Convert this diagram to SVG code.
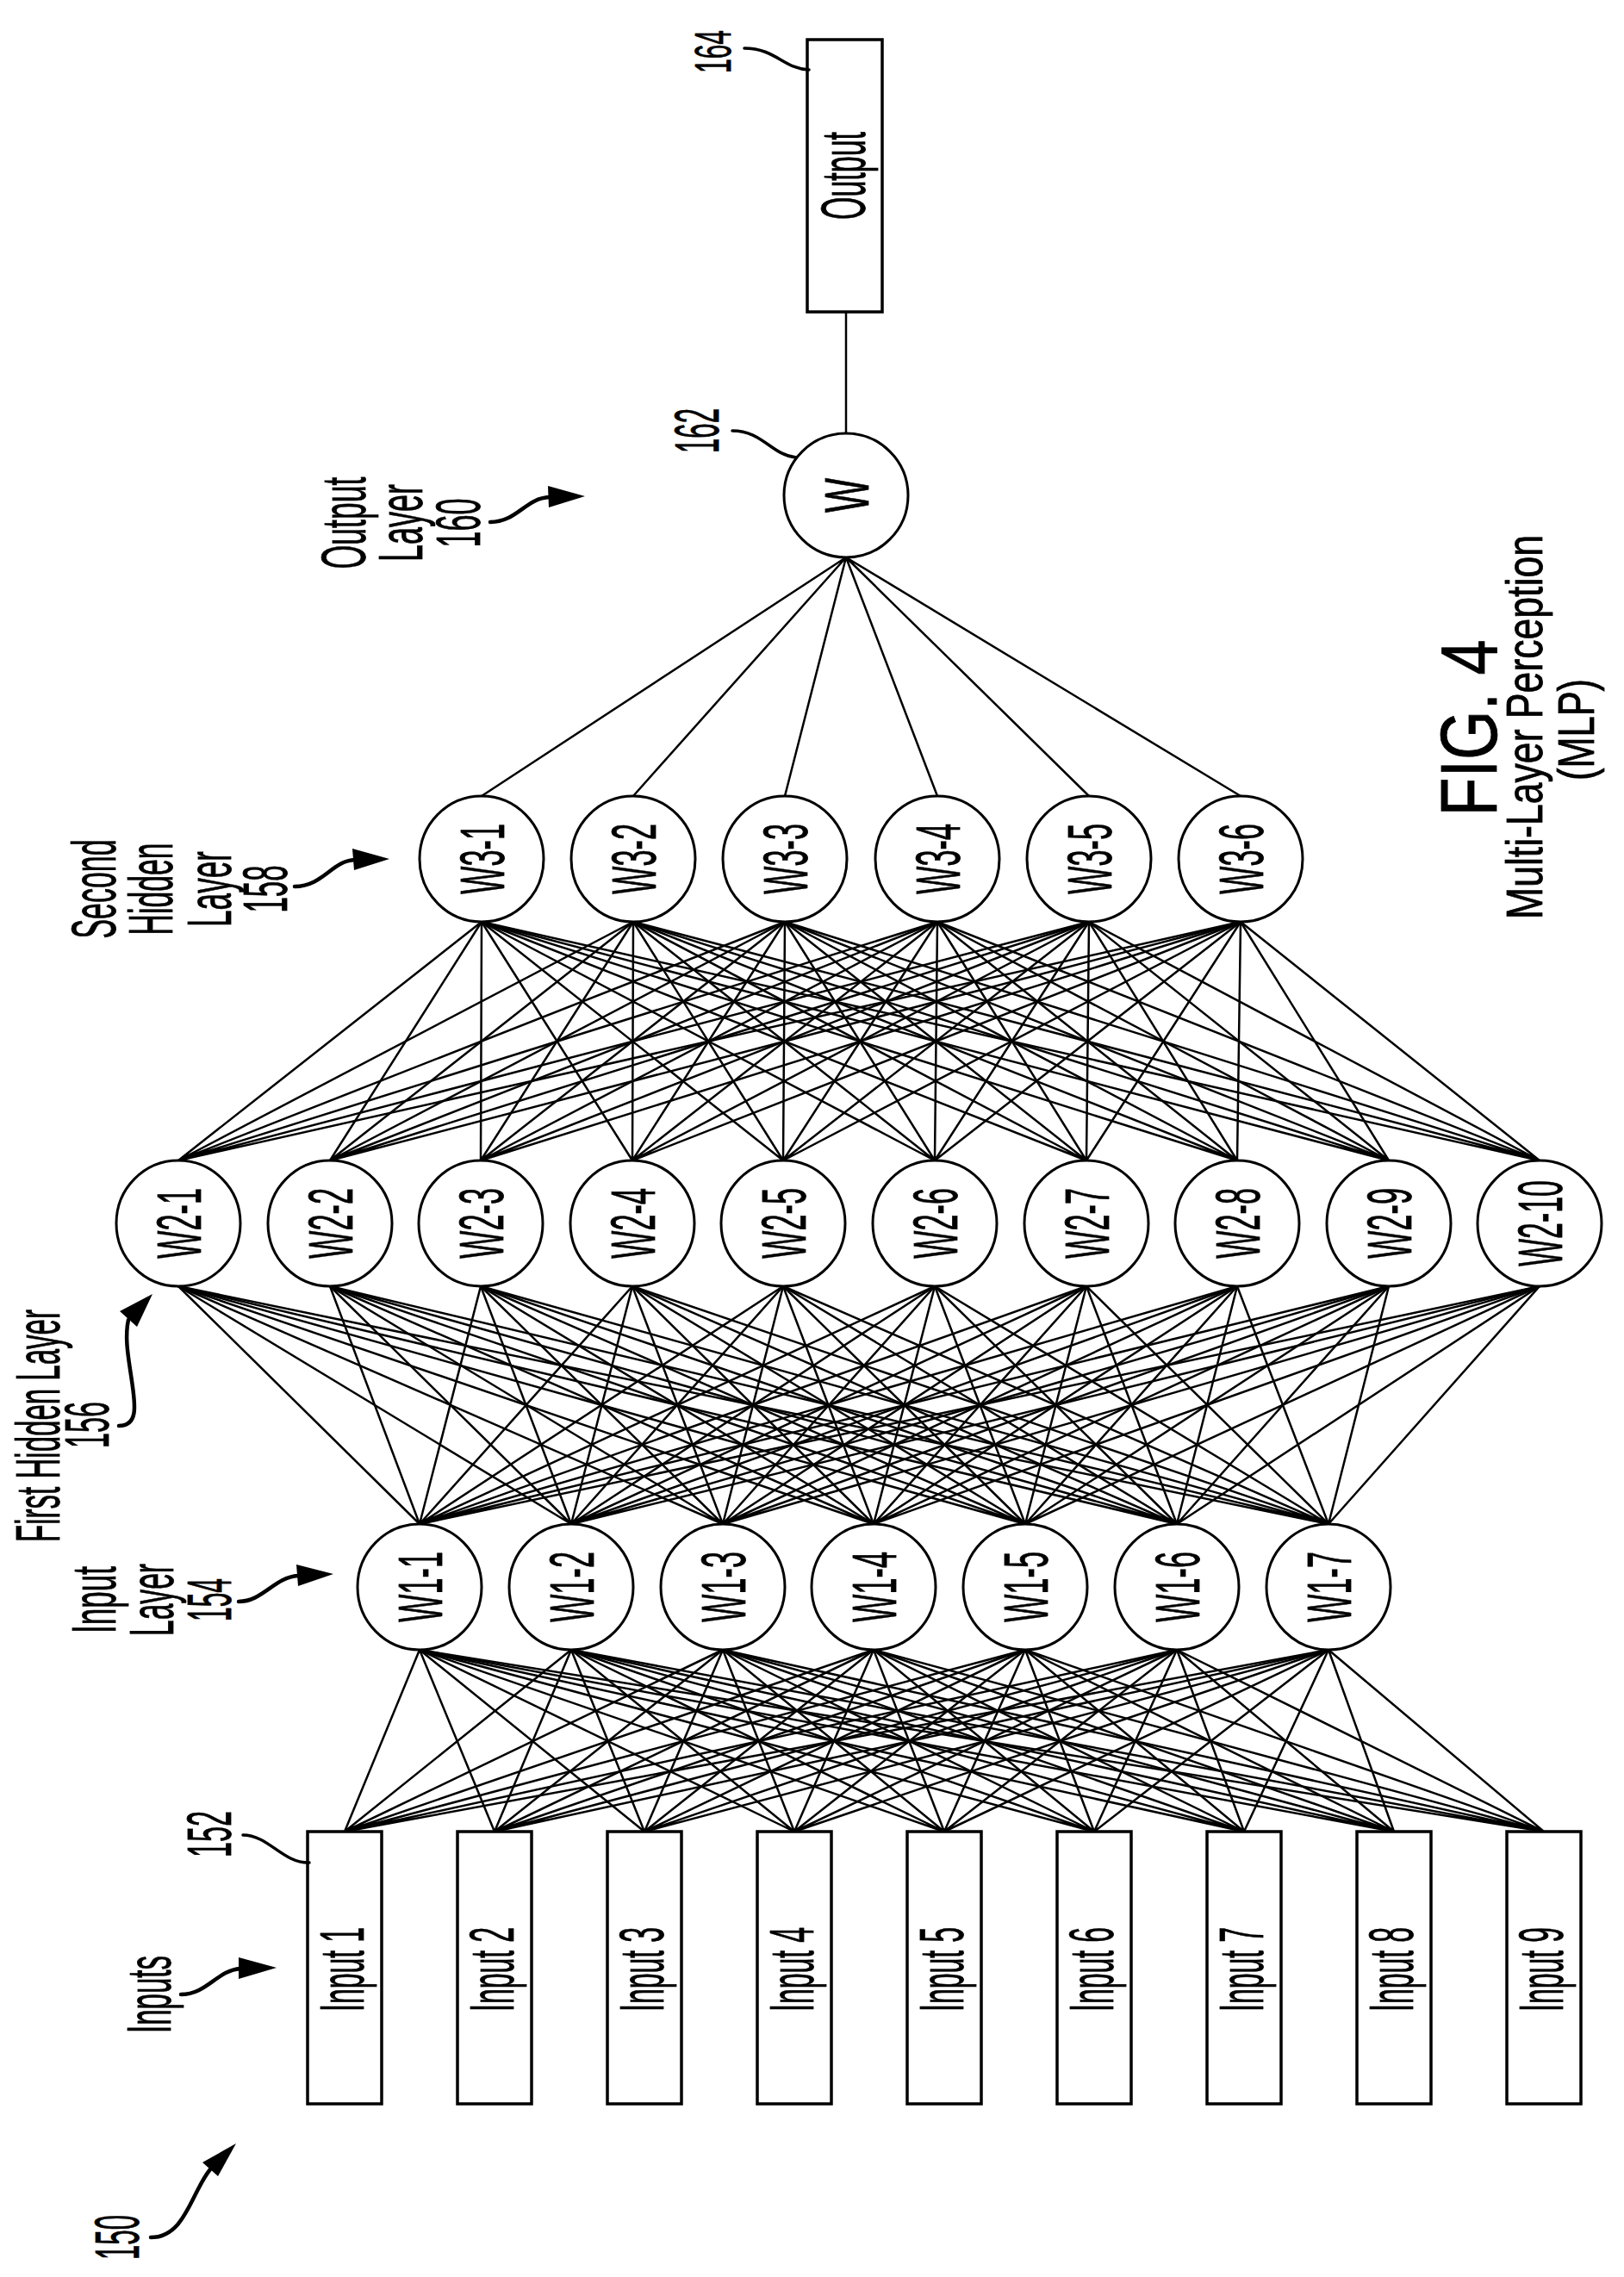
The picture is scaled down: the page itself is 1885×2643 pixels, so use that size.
<svg xmlns="http://www.w3.org/2000/svg" width="1885" height="2643" viewBox="0 0 1885 2643">
<style>
text{font-family:"Liberation Sans",Arial,sans-serif;fill:#000;stroke:#000;stroke-width:0.8}
.n{font-size:72px;text-anchor:middle}
.l{font-size:72px;text-anchor:middle}
.e{fill:#fff;stroke:#000;stroke-width:3}
.b{fill:#fff;stroke:#000;stroke-width:3.5}
.c path{fill:none;stroke:#000;stroke-width:2.5}
.ld{fill:none;stroke:#000;stroke-width:4.5;stroke-linecap:round}
.ah{fill:#000}
</style>
<rect width="1885" height="2643" fill="#fff"/>
<g id="connectors" class="c">
<path d="M400,2126L487,1915M400,2126L663,1915M400,2126L839,1915M400,2126L1014,1915M400,2126L1190,1915M400,2126L1366,1915M400,2126L1542,1915"/>
<path d="M574,2126L487,1915M574,2126L663,1915M574,2126L839,1915M574,2126L1014,1915M574,2126L1190,1915M574,2126L1366,1915M574,2126L1542,1915"/>
<path d="M748,2126L487,1915M748,2126L663,1915M748,2126L839,1915M748,2126L1014,1915M748,2126L1190,1915M748,2126L1366,1915M748,2126L1542,1915"/>
<path d="M922,2126L487,1915M922,2126L663,1915M922,2126L839,1915M922,2126L1014,1915M922,2126L1190,1915M922,2126L1366,1915M922,2126L1542,1915"/>
<path d="M1096,2126L487,1915M1096,2126L663,1915M1096,2126L839,1915M1096,2126L1014,1915M1096,2126L1190,1915M1096,2126L1366,1915M1096,2126L1542,1915"/>
<path d="M1270,2126L487,1915M1270,2126L663,1915M1270,2126L839,1915M1270,2126L1014,1915M1270,2126L1190,1915M1270,2126L1366,1915M1270,2126L1542,1915"/>
<path d="M1444,2126L487,1915M1444,2126L663,1915M1444,2126L839,1915M1444,2126L1014,1915M1444,2126L1190,1915M1444,2126L1366,1915M1444,2126L1542,1915"/>
<path d="M1618,2126L487,1915M1618,2126L663,1915M1618,2126L839,1915M1618,2126L1014,1915M1618,2126L1190,1915M1618,2126L1366,1915M1618,2126L1542,1915"/>
<path d="M1792,2126L487,1915M1792,2126L663,1915M1792,2126L839,1915M1792,2126L1014,1915M1792,2126L1190,1915M1792,2126L1366,1915M1792,2126L1542,1915"/>
<path d="M487,1769L207,1493M487,1769L383,1493M487,1769L558,1493M487,1769L734,1493M487,1769L909,1493M487,1769L1085,1493M487,1769L1261,1493M487,1769L1436,1493M487,1769L1612,1493M487,1769L1787,1493"/>
<path d="M663,1769L207,1493M663,1769L383,1493M663,1769L558,1493M663,1769L734,1493M663,1769L909,1493M663,1769L1085,1493M663,1769L1261,1493M663,1769L1436,1493M663,1769L1612,1493M663,1769L1787,1493"/>
<path d="M839,1769L207,1493M839,1769L383,1493M839,1769L558,1493M839,1769L734,1493M839,1769L909,1493M839,1769L1085,1493M839,1769L1261,1493M839,1769L1436,1493M839,1769L1612,1493M839,1769L1787,1493"/>
<path d="M1014,1769L207,1493M1014,1769L383,1493M1014,1769L558,1493M1014,1769L734,1493M1014,1769L909,1493M1014,1769L1085,1493M1014,1769L1261,1493M1014,1769L1436,1493M1014,1769L1612,1493M1014,1769L1787,1493"/>
<path d="M1190,1769L207,1493M1190,1769L383,1493M1190,1769L558,1493M1190,1769L734,1493M1190,1769L909,1493M1190,1769L1085,1493M1190,1769L1261,1493M1190,1769L1436,1493M1190,1769L1612,1493M1190,1769L1787,1493"/>
<path d="M1366,1769L207,1493M1366,1769L383,1493M1366,1769L558,1493M1366,1769L734,1493M1366,1769L909,1493M1366,1769L1085,1493M1366,1769L1261,1493M1366,1769L1436,1493M1366,1769L1612,1493M1366,1769L1787,1493"/>
<path d="M1542,1769L207,1493M1542,1769L383,1493M1542,1769L558,1493M1542,1769L734,1493M1542,1769L909,1493M1542,1769L1085,1493M1542,1769L1261,1493M1542,1769L1436,1493M1542,1769L1612,1493M1542,1769L1787,1493"/>
<path d="M207,1347L559,1070M207,1347L735,1070M207,1347L911,1070M207,1347L1088,1070M207,1347L1264,1070M207,1347L1440,1070"/>
<path d="M383,1347L559,1070M383,1347L735,1070M383,1347L911,1070M383,1347L1088,1070M383,1347L1264,1070M383,1347L1440,1070"/>
<path d="M558,1347L559,1070M558,1347L735,1070M558,1347L911,1070M558,1347L1088,1070M558,1347L1264,1070M558,1347L1440,1070"/>
<path d="M734,1347L559,1070M734,1347L735,1070M734,1347L911,1070M734,1347L1088,1070M734,1347L1264,1070M734,1347L1440,1070"/>
<path d="M909,1347L559,1070M909,1347L735,1070M909,1347L911,1070M909,1347L1088,1070M909,1347L1264,1070M909,1347L1440,1070"/>
<path d="M1085,1347L559,1070M1085,1347L735,1070M1085,1347L911,1070M1085,1347L1088,1070M1085,1347L1264,1070M1085,1347L1440,1070"/>
<path d="M1261,1347L559,1070M1261,1347L735,1070M1261,1347L911,1070M1261,1347L1088,1070M1261,1347L1264,1070M1261,1347L1440,1070"/>
<path d="M1436,1347L559,1070M1436,1347L735,1070M1436,1347L911,1070M1436,1347L1088,1070M1436,1347L1264,1070M1436,1347L1440,1070"/>
<path d="M1612,1347L559,1070M1612,1347L735,1070M1612,1347L911,1070M1612,1347L1088,1070M1612,1347L1264,1070M1612,1347L1440,1070"/>
<path d="M1787,1347L559,1070M1787,1347L735,1070M1787,1347L911,1070M1787,1347L1088,1070M1787,1347L1264,1070M1787,1347L1440,1070"/>
<path d="M559,924L982,647M735,924L982,647M911,924L982,647M1088,924L982,647M1264,924L982,647M1440,924L982,647"/>
<path d="M982,503L982,362"/>
</g>
<g id="inputs">
<rect class="b" x="357" y="2126" width="86" height="316"/><text class="n" x="400" y="2286" dy="0.3em" textLength="98" lengthAdjust="spacingAndGlyphs" transform="rotate(-90 400 2286)">Input 1</text>
<rect class="b" x="531" y="2126" width="86" height="316"/><text class="n" x="574" y="2286" dy="0.3em" textLength="98" lengthAdjust="spacingAndGlyphs" transform="rotate(-90 574 2286)">Input 2</text>
<rect class="b" x="705" y="2126" width="86" height="316"/><text class="n" x="748" y="2286" dy="0.3em" textLength="98" lengthAdjust="spacingAndGlyphs" transform="rotate(-90 748 2286)">Input 3</text>
<rect class="b" x="879" y="2126" width="86" height="316"/><text class="n" x="922" y="2286" dy="0.3em" textLength="98" lengthAdjust="spacingAndGlyphs" transform="rotate(-90 922 2286)">Input 4</text>
<rect class="b" x="1053" y="2126" width="86" height="316"/><text class="n" x="1096" y="2286" dy="0.3em" textLength="98" lengthAdjust="spacingAndGlyphs" transform="rotate(-90 1096 2286)">Input 5</text>
<rect class="b" x="1227" y="2126" width="86" height="316"/><text class="n" x="1270" y="2286" dy="0.3em" textLength="98" lengthAdjust="spacingAndGlyphs" transform="rotate(-90 1270 2286)">Input 6</text>
<rect class="b" x="1401" y="2126" width="86" height="316"/><text class="n" x="1444" y="2286" dy="0.3em" textLength="98" lengthAdjust="spacingAndGlyphs" transform="rotate(-90 1444 2286)">Input 7</text>
<rect class="b" x="1575" y="2126" width="86" height="316"/><text class="n" x="1618" y="2286" dy="0.3em" textLength="98" lengthAdjust="spacingAndGlyphs" transform="rotate(-90 1618 2286)">Input 8</text>
<rect class="b" x="1749" y="2126" width="86" height="316"/><text class="n" x="1792" y="2286" dy="0.3em" textLength="98" lengthAdjust="spacingAndGlyphs" transform="rotate(-90 1792 2286)">Input 9</text>
</g>
<g id="layer1">
<ellipse class="e" cx="487" cy="1842" rx="72" ry="73"/><text class="n" x="487" y="1842" dy="0.36em" textLength="82" lengthAdjust="spacingAndGlyphs" transform="rotate(-90 487 1842)">W1-1</text>
<ellipse class="e" cx="663" cy="1842" rx="72" ry="73"/><text class="n" x="663" y="1842" dy="0.36em" textLength="82" lengthAdjust="spacingAndGlyphs" transform="rotate(-90 663 1842)">W1-2</text>
<ellipse class="e" cx="839" cy="1842" rx="72" ry="73"/><text class="n" x="839" y="1842" dy="0.36em" textLength="82" lengthAdjust="spacingAndGlyphs" transform="rotate(-90 839 1842)">W1-3</text>
<ellipse class="e" cx="1014" cy="1842" rx="72" ry="73"/><text class="n" x="1014" y="1842" dy="0.36em" textLength="82" lengthAdjust="spacingAndGlyphs" transform="rotate(-90 1014 1842)">W1-4</text>
<ellipse class="e" cx="1190" cy="1842" rx="72" ry="73"/><text class="n" x="1190" y="1842" dy="0.36em" textLength="82" lengthAdjust="spacingAndGlyphs" transform="rotate(-90 1190 1842)">W1-5</text>
<ellipse class="e" cx="1366" cy="1842" rx="72" ry="73"/><text class="n" x="1366" y="1842" dy="0.36em" textLength="82" lengthAdjust="spacingAndGlyphs" transform="rotate(-90 1366 1842)">W1-6</text>
<ellipse class="e" cx="1542" cy="1842" rx="72" ry="73"/><text class="n" x="1542" y="1842" dy="0.36em" textLength="82" lengthAdjust="spacingAndGlyphs" transform="rotate(-90 1542 1842)">W1-7</text>
</g>
<g id="layer2">
<ellipse class="e" cx="207" cy="1420" rx="72" ry="73"/><text class="n" x="207" y="1420" dy="0.36em" textLength="82" lengthAdjust="spacingAndGlyphs" transform="rotate(-90 207 1420)">W2-1</text>
<ellipse class="e" cx="383" cy="1420" rx="72" ry="73"/><text class="n" x="383" y="1420" dy="0.36em" textLength="82" lengthAdjust="spacingAndGlyphs" transform="rotate(-90 383 1420)">W2-2</text>
<ellipse class="e" cx="558" cy="1420" rx="72" ry="73"/><text class="n" x="558" y="1420" dy="0.36em" textLength="82" lengthAdjust="spacingAndGlyphs" transform="rotate(-90 558 1420)">W2-3</text>
<ellipse class="e" cx="734" cy="1420" rx="72" ry="73"/><text class="n" x="734" y="1420" dy="0.36em" textLength="82" lengthAdjust="spacingAndGlyphs" transform="rotate(-90 734 1420)">W2-4</text>
<ellipse class="e" cx="909" cy="1420" rx="72" ry="73"/><text class="n" x="909" y="1420" dy="0.36em" textLength="82" lengthAdjust="spacingAndGlyphs" transform="rotate(-90 909 1420)">W2-5</text>
<ellipse class="e" cx="1085" cy="1420" rx="72" ry="73"/><text class="n" x="1085" y="1420" dy="0.36em" textLength="82" lengthAdjust="spacingAndGlyphs" transform="rotate(-90 1085 1420)">W2-6</text>
<ellipse class="e" cx="1261" cy="1420" rx="72" ry="73"/><text class="n" x="1261" y="1420" dy="0.36em" textLength="82" lengthAdjust="spacingAndGlyphs" transform="rotate(-90 1261 1420)">W2-7</text>
<ellipse class="e" cx="1436" cy="1420" rx="72" ry="73"/><text class="n" x="1436" y="1420" dy="0.36em" textLength="82" lengthAdjust="spacingAndGlyphs" transform="rotate(-90 1436 1420)">W2-8</text>
<ellipse class="e" cx="1612" cy="1420" rx="72" ry="73"/><text class="n" x="1612" y="1420" dy="0.36em" textLength="82" lengthAdjust="spacingAndGlyphs" transform="rotate(-90 1612 1420)">W2-9</text>
<ellipse class="e" cx="1787" cy="1420" rx="72" ry="73"/><text class="n" x="1787" y="1420" dy="0.36em" textLength="100" lengthAdjust="spacingAndGlyphs" transform="rotate(-90 1787 1420)">W2-10</text>
</g>
<g id="layer3">
<ellipse class="e" cx="559" cy="997" rx="72" ry="73"/><text class="n" x="559" y="997" dy="0.36em" textLength="82" lengthAdjust="spacingAndGlyphs" transform="rotate(-90 559 997)">W3-1</text>
<ellipse class="e" cx="735" cy="997" rx="72" ry="73"/><text class="n" x="735" y="997" dy="0.36em" textLength="82" lengthAdjust="spacingAndGlyphs" transform="rotate(-90 735 997)">W3-2</text>
<ellipse class="e" cx="911" cy="997" rx="72" ry="73"/><text class="n" x="911" y="997" dy="0.36em" textLength="82" lengthAdjust="spacingAndGlyphs" transform="rotate(-90 911 997)">W3-3</text>
<ellipse class="e" cx="1088" cy="997" rx="72" ry="73"/><text class="n" x="1088" y="997" dy="0.36em" textLength="82" lengthAdjust="spacingAndGlyphs" transform="rotate(-90 1088 997)">W3-4</text>
<ellipse class="e" cx="1264" cy="997" rx="72" ry="73"/><text class="n" x="1264" y="997" dy="0.36em" textLength="82" lengthAdjust="spacingAndGlyphs" transform="rotate(-90 1264 997)">W3-5</text>
<ellipse class="e" cx="1440" cy="997" rx="72" ry="73"/><text class="n" x="1440" y="997" dy="0.36em" textLength="82" lengthAdjust="spacingAndGlyphs" transform="rotate(-90 1440 997)">W3-6</text>
</g>
<g id="output-node">
<ellipse class="e" cx="982" cy="575" rx="72" ry="72"/><text class="n" x="982" y="575" dy="0.36em" textLength="40" lengthAdjust="spacingAndGlyphs" transform="rotate(-90 982 575)">W</text>
</g>
<g id="output-box">
<rect class="b" x="937" y="46" width="87" height="316"/><text class="n" x="980" y="204" dy="0.33em" textLength="102" lengthAdjust="spacingAndGlyphs" transform="rotate(-90 980 204)">Output</text>
</g>
<g id="labels">
<text class="l" x="161" y="2597" textLength="52" lengthAdjust="spacingAndGlyphs" transform="rotate(-90 161 2597)">150</text>
<path class="ld" d="M175,2597 C215,2597 222,2545 244,2518"/><polygon class="ah" points="274,2488 235,2510 253,2526"/>
<text class="l" x="198" y="2315" textLength="90" lengthAdjust="spacingAndGlyphs" transform="rotate(-90 198 2315)">Inputs</text>
<path class="ld" d="M210,2315 C240,2315 252,2287 279,2285"/><polygon class="ah" points="321,2284 277,2272 277,2297"/>
<text class="l" x="268" y="2129" textLength="54" lengthAdjust="spacingAndGlyphs" transform="rotate(-90 268 2129)">152</text>
<path class="ld" d="M282,2130 C312,2130 328,2163 359,2162" style="stroke-width:3.5"/>
<text class="l" x="134" y="1857" textLength="78" lengthAdjust="spacingAndGlyphs" transform="rotate(-90 134 1857)">Input</text>
<text class="l" x="201" y="1857" textLength="84" lengthAdjust="spacingAndGlyphs" transform="rotate(-90 201 1857)">Layer</text>
<text class="l" x="268" y="1857" textLength="50" lengthAdjust="spacingAndGlyphs" transform="rotate(-90 268 1857)">154</text>
<path class="ld" d="M277,1859 C305,1859 318,1831 346,1829"/><polygon class="ah" points="387,1827 344,1816 346,1841"/>
<text class="l" x="69" y="1655" textLength="270" lengthAdjust="spacingAndGlyphs" transform="rotate(-90 69 1655)">First Hidden Layer</text>
<text class="l" x="126" y="1654" textLength="54" lengthAdjust="spacingAndGlyphs" transform="rotate(-90 126 1654)">156</text>
<path class="ld" d="M138,1655 C160,1655 157,1632 154,1610 C150,1580 144,1555 149,1532"/><polygon class="ah" points="177,1502 139,1522 159,1540"/>
<text class="l" x="134" y="1032" textLength="115" lengthAdjust="spacingAndGlyphs" transform="rotate(-90 134 1032)">Second</text>
<text class="l" x="200" y="1032" textLength="107" lengthAdjust="spacingAndGlyphs" transform="rotate(-90 200 1032)">Hidden</text>
<text class="l" x="268" y="1032" textLength="88" lengthAdjust="spacingAndGlyphs" transform="rotate(-90 268 1032)">Layer</text>
<text class="l" x="333" y="1032" textLength="55" lengthAdjust="spacingAndGlyphs" transform="rotate(-90 333 1032)">158</text>
<path class="ld" d="M342,1029 C375,1029 385,999 412,998"/><polygon class="ah" points="452,997 409,985 411,1010"/>
<text class="l" x="424" y="607" textLength="107" lengthAdjust="spacingAndGlyphs" transform="rotate(-90 424 607)">Output</text>
<text class="l" x="490" y="607" textLength="90" lengthAdjust="spacingAndGlyphs" transform="rotate(-90 490 607)">Layer</text>
<text class="l" x="557" y="607" textLength="57" lengthAdjust="spacingAndGlyphs" transform="rotate(-90 557 607)">160</text>
<path class="ld" d="M569,606 C600,606 610,578 638,577"/><polygon class="ah" points="679,576 636,564 637,589"/>
<text class="l" x="834" y="500" textLength="52" lengthAdjust="spacingAndGlyphs" transform="rotate(-90 834 500)">162</text>
<path class="ld" d="M850,500 C885,500 895,528 924,531" style="stroke-width:3.5"/>
<text class="l" x="848" y="60" font-size="60" textLength="50" lengthAdjust="spacingAndGlyphs" transform="rotate(-90 848 60)" style="font-size:60px">164</text>
<path class="ld" d="M864,56 C900,56 910,80 939,81" style="stroke-width:3.5"/>
</g>
<g id="caption">
<text x="1737" y="845" text-anchor="middle" font-size="92" textLength="205" lengthAdjust="spacingAndGlyphs" transform="rotate(-90 1737 845)">FIG. 4</text>
<text x="1790" y="844" text-anchor="middle" font-size="60" textLength="446" lengthAdjust="spacingAndGlyphs" transform="rotate(-90 1790 844)">Multi-Layer Perception</text>
<text x="1850" y="847" text-anchor="middle" font-size="60" textLength="118" lengthAdjust="spacingAndGlyphs" transform="rotate(-90 1850 847)">(MLP)</text>
</g>
</svg>
